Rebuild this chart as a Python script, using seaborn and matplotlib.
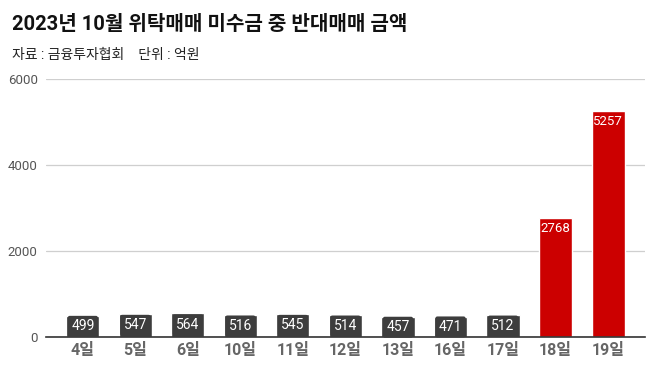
import seaborn as sns
import matplotlib.pyplot as plt
import pandas as pd

# 2023년 10월 위탁매매 미수금 중 반대매매 금액 (억원)
days = ['4일', '5일', '6일', '10일', '11일', '12일', '13일', '16일', '17일', '18일', '19일']
amounts = [499, 547, 564, 516, 545, 514, 457, 471, 512, 2768, 5257]
highlight = [False] * 9 + [True, True]

df = pd.DataFrame({'day': days, 'amount': amounts, 'hl': highlight})

sns.set_style('white')
plt.rcParams['font.family'] = ['Roboto', 'Noto Sans CJK KR', 'DejaVu Sans']

fig = plt.figure(figsize=(6.58, 3.77), dpi=100)
ax = fig.add_axes([0.070, 0.106, 0.910, 0.684])

sns.barplot(data=df, x='day', y='amount', hue='hl',
            palette={False: '#3d3d3d', True: '#cc0000'},
            width=0.63, legend=False, ax=ax, saturation=1)

ax.set_ylim(0, 6000)
ax.set_xlim(-0.7, 10.7)
ax.set_yticks([0, 2000, 4000, 6000])
ax.yaxis.grid(True, color='#cfcfcf', linewidth=0.9)
ax.set_axisbelow(True)
for s in ['top', 'right', 'left']:
    ax.spines[s].set_visible(False)
ax.spines['bottom'].set_color('#333333')
ax.spines['bottom'].set_linewidth(1.2)
ax.tick_params(axis='y', length=0, labelsize=9.5, labelcolor='#555555', pad=6)
ax.tick_params(axis='x', length=0, labelsize=11.5, labelcolor='#666666', pad=4)
for lbl in ax.get_xticklabels():
    lbl.set_fontweight('bold')
ax.set_xlabel('')
ax.set_ylabel('')

# value labels
for i, v in enumerate(amounts):
    if highlight[i]:
        ax.text(i, v - 90, f'{v}', ha='center', va='top', color='white', fontsize=9.5)
    else:
        ax.text(i, v / 2, f'{v}', ha='center', va='center', color='white', fontsize=10,
                bbox=dict(boxstyle='round,pad=0.25,rounding_size=0.15', fc='#3d3d3d', ec='none'))

fig.text(0.018, 0.935, '2023년 10월 위탁매매 미수금 중 반대매매 금액',
         fontsize=14.5, fontweight='bold', color='#111111', va='center')
fig.text(0.018, 0.855, '자료 : 금융투자협회    단위 : 억원',
         fontsize=10, color='#222222', va='center')

fig.savefig('out.png', dpi=100)
